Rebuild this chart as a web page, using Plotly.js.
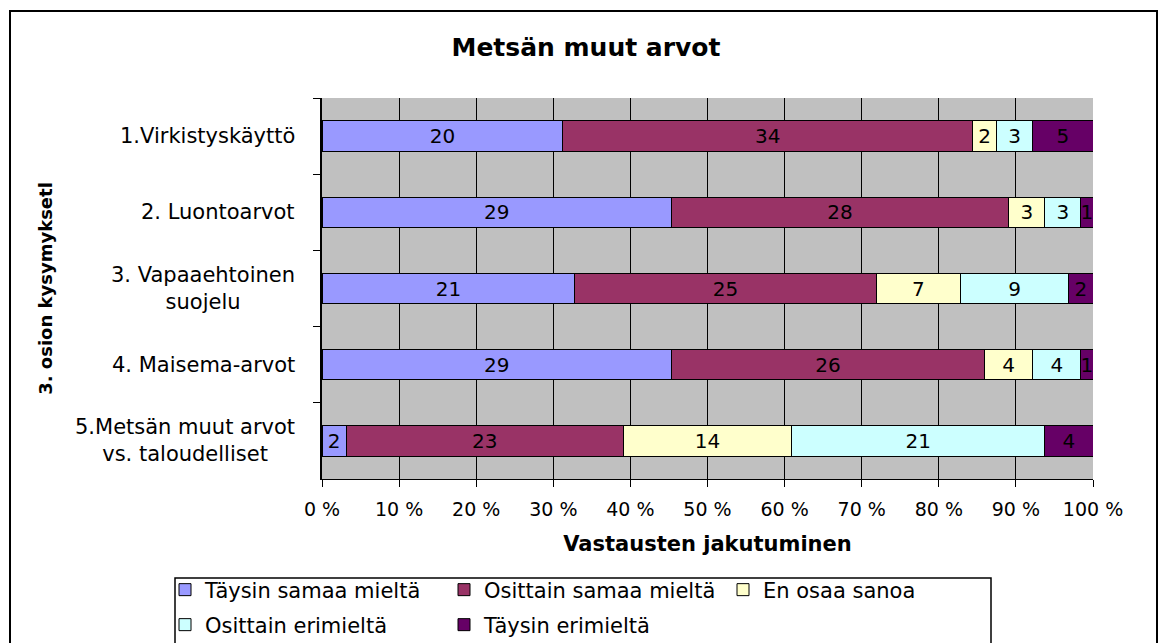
<!DOCTYPE html>
<html>
<head>
<meta charset="utf-8">
<script src="https://cdn.plot.ly/plotly-3.0.1.min.js"></script>
<style>
  html, body { margin: 0; padding: 0; background: #fff; }
  #chart { width: 1162px; height: 643px; }
</style>
</head>
<body>
<div id="chart"></div>
<script>
// ---- data ----
const categories = [
  "1.Virkistyskäyttö",
  "2. Luontoarvot",
  "3. Vapaaehtoinen<br>suojelu",
  "4. Maisema-arvot",
  "5.Metsän muut arvot<br>vs. taloudelliset"
];
const seriesNames = [
  "Täysin samaa mieltä",
  "Osittain samaa mieltä",
  "En osaa sanoa",
  "Osittain erimieltä",
  "Täysin erimieltä"
];
const taysinSamaa   = [20, 29, 21, 29, 2];
const osittainSamaa = [34, 28, 25, 26, 23];
const enOsaa        = [2, 3, 7, 4, 14];
const osittainEri   = [3, 3, 9, 4, 21];
const taysinEri     = [5, 1, 2, 1, 4];
const xTickVals  = [0, 10, 20, 30, 40, 50, 60, 70, 80, 90, 100];
const xTickText  = ["0 %", "10 %", "20 %", "30 %", "40 %", "50 %", "60 %", "70 %", "80 %", "90 %", "100 %"];
const chartTitle = "Metsän muut arvot";
const xTitle = "Vastausten jakutuminen";
const yTitle = "3. osion kysymyksetl";

// ---- style ----
const colors = ["#9999FF", "#993366", "#FFFFCC", "#CCFFFF", "#660066"];
const FONT = "DejaVu Sans, Verdana, sans-serif";
const allValues = [taysinSamaa, osittainSamaa, enOsaa, osittainEri, taysinEri];
const legendOf = ["legend", "legend", "legend", "legend2", "legend2"];

const traces = allValues.map((vals, i) => ({
  type: "bar",
  orientation: "h",
  name: seriesNames[i],
  y: categories,
  x: vals,
  text: vals.map(String),
  textposition: "inside",
  insidetextanchor: "middle",
  textangle: 0,
  constraintext: "none",
  textfont: { family: FONT, size: 20, color: "#000" },
  insidetextfont: { family: FONT, size: 20, color: "#000" },
  marker: { color: colors[i], line: { color: "#000", width: 1 } },
  legend: legendOf[i],
  hoverinfo: "skip",
  cliponaxis: false
}));

// plot-area geometry helpers (pixel -> paper)
const L = 322, R = 1093, T = 98, B = 479;
const xp = px => (px - L) / (R - L);
const yp = py => (B - py) / (B - T);

const annotations = categories.map(c => ({
  text: c,
  xref: "paper", x: 0, xanchor: "right", xshift: -25,
  yref: "y", y: c, yanchor: "middle",
  align: "center",
  showarrow: false,
  font: { family: FONT, size: 21, color: "#000" }
}));

const legendCommon = {
  orientation: "h",
  xanchor: "left",
  yanchor: "middle",
  bgcolor: "rgba(0,0,0,0)",
  borderwidth: 0,
  font: { family: FONT, size: 21, color: "#000" },
  entrywidth: 234,
  entrywidthmode: "pixels",
  traceorder: "normal",
  itemclick: false,
  itemdoubleclick: false
};

const layout = {
  width: 1162,
  height: 643,
  margin: { l: L, r: 1162 - R, t: T, b: 643 - B, pad: 0, autoexpand: false },
  paper_bgcolor: "#FFFFFF",
  plot_bgcolor: "#C0C0C0",
  barmode: "stack",
  barnorm: "percent",
  bargap: 0.6,
  showlegend: true,
  title: {
    text: "<b>" + chartTitle + "</b>",
    font: { family: FONT, size: 25, color: "#000" },
    xref: "container", x: 586 / 1162, xanchor: "center",
    yref: "container", y: 1 - 47 / 643, yanchor: "middle"
  },
  xaxis: {
    range: [0, 100],
    tickmode: "array",
    tickvals: xTickVals,
    ticktext: xTickText,
    ticks: "outside",
    ticklen: 7,
    tickcolor: "#000",
    tickwidth: 1,
    ticklabelstandoff: 6,
    showgrid: true,
    gridcolor: "#000",
    gridwidth: 1,
    showline: true,
    linecolor: "#000",
    linewidth: 1,
    zeroline: false,
    fixedrange: true,
    tickfont: { family: FONT, size: 19, color: "#000" },
    title: {
      text: "<b>" + xTitle + "</b>",
      font: { family: FONT, size: 21, color: "#000" },
      standoff: 17
    }
  },
  yaxis: {
    type: "category",
    autorange: "reversed",
    showticklabels: false,
    ticks: "outside",
    tickson: "boundaries",
    ticklen: 7,
    tickcolor: "#000",
    tickwidth: 1,
    showgrid: false,
    showline: true,
    linecolor: "#000",
    linewidth: 2,
    zeroline: false,
    fixedrange: true,
    title: {
      text: "<b>" + yTitle + "</b>",
      font: { family: FONT, size: 18, color: "#000" },
      standoff: 263
    }
  },
  legend: Object.assign({}, legendCommon, { x: xp(165), y: yp(590) }),
  legend2: Object.assign({}, legendCommon, { x: xp(165), y: yp(625) }),
  annotations: annotations,
  shapes: [
    { type: "rect", xref: "paper", yref: "paper",
      x0: xp(10), x1: xp(1157), y0: yp(652), y1: yp(11),
      line: { color: "#000", width: 2 }, fillcolor: "rgba(0,0,0,0)", layer: "above" },
    { type: "rect", xref: "paper", yref: "paper",
      x0: xp(175), x1: xp(991), y0: yp(660), y1: yp(578),
      line: { color: "#000", width: 1.5 }, fillcolor: "rgba(0,0,0,0)", layer: "above" }
  ],
  hovermode: false
};

Plotly.newPlot("chart", traces, layout, { staticPlot: true, displayModeBar: false });
</script>
</body>
</html>
